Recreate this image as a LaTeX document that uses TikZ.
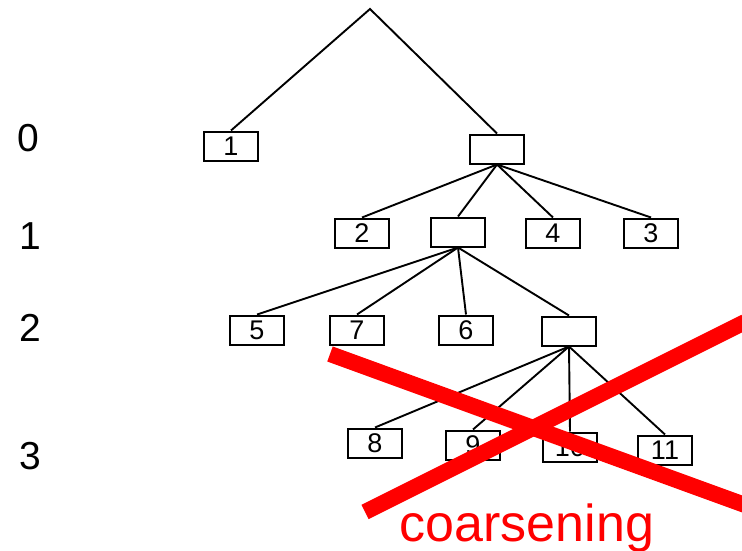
\documentclass[tikz,border=0pt]{standalone}
\usepackage{fontspec}
\setmainfont{Liberation Sans}
\begin{document}
\begin{tikzpicture}[x=1pt,y=-1pt,
  cell/.style={draw,line width=2pt,minimum width=54pt,minimum height=29pt,inner sep=0pt,font=\fontsize{27}{27}\selectfont},
  level/.style={font=\fontsize{39}{39}\selectfont,inner sep=0pt},
  edge/.style={line width=1.9pt},
  strike/.style={red,line width=16pt}]
\useasboundingbox (0,0) rectangle (742,551);

% level numbers
\node[level] (l0) at (28,138) {0};
\node[level] (l1) at (30,236) {1};
\node[level] (l2) at (30,328) {2};
\node[level] (l3) at (30,456) {3};

% tree
\coordinate (top) at (370,9);
\node[cell] (n1) at (231,146) {1};
\node[cell] (a)  at (497,149) {};

\node[cell] (n2) at (362,233) {2};
\node[cell] (b)  at (458,232) {};
\node[cell] (n4) at (553,233) {4};
\node[cell] (n3) at (651,233) {3};

\node[cell] (n5) at (257,330) {5};
\node[cell] (n7) at (357,330) {7};
\node[cell] (n6) at (466,330) {6};
\node[cell] (c)  at (569,331) {};

\node[cell] (n8)  at (375,443) {8};
\node[cell] (n9)  at (473,445) {9};
\node[cell] (n10) at (570,447) {10};
\node[cell] (n11) at (665,450) {11};

\draw[edge] (n1.north) -- (top) -- (a.north);
\foreach \k in {n2,b,n4,n3} \draw[edge] (a.south) -- (\k.north);
\foreach \k in {n5,n7,n6,c} \draw[edge] (b.south) -- (\k.north);
\foreach \k in {n8,n9,n10,n11} \draw[edge] (c.south) -- (\k.north);

% red cross and caption
\coordinate (s1) at (330,354);
\coordinate (e1) at (745,505);
\coordinate (s2) at (365,512);
\coordinate (e2) at (745,322);
\begin{scope}
\clip (0,0) rectangle (742,551);
\draw[strike] (s1) -- (e1);
\draw[strike] (s2) -- (e2);
\end{scope}
\node[red,anchor=base,inner sep=0pt,font=\fontsize{52}{52}\selectfont] (cap) at (527,541) {coarsening};
\end{tikzpicture}
\end{document}
